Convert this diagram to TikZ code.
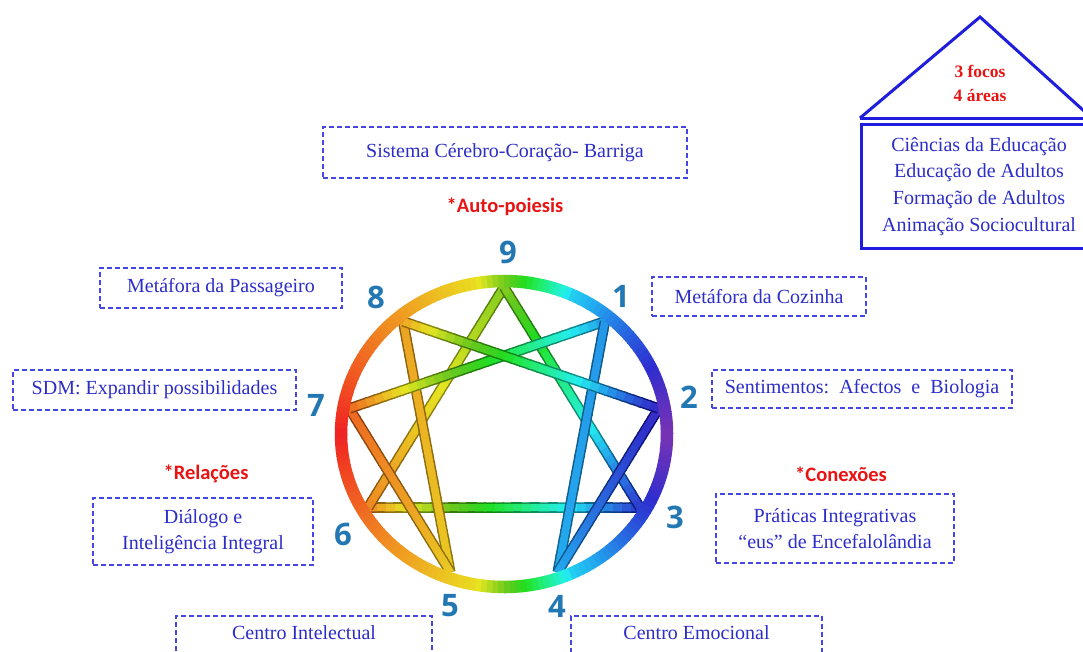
\documentclass[tikz,border=0pt]{standalone}
\usepackage{fontspec}
\setmainfont{Liberation Serif}
\newfontfamily\labfont{Carlito}
\newfontfamily\numfont{Open Sans}
\usetikzlibrary{calc}
\definecolor{boxblue}{RGB}{70,70,225}
\definecolor{txtblue}{RGB}{45,45,200}
\definecolor{redlab}{RGB}{232,20,20}
\definecolor{numblue}{RGB}{35,120,180}
\definecolor{houseblue}{RGB}{30,30,220}
\tikzset{
  dbox/.style={draw=boxblue, dash pattern=on 5pt off 3pt, line width=1.8pt,
    text=txtblue, font=\fontsize{20}{26.5}\selectfont, align=center, inner sep=0pt},
  redlabel/.style={text=redlab, font=\labfont\bfseries\fontsize{20.5}{24}\selectfont, inner sep=0pt},
  numlabel/.style={text=numblue, font=\numfont\bfseries\fontsize{31}{36}\selectfont, inner sep=0pt},
  housetext/.style={text=txtblue, font=\fontsize{20}{26.7}\selectfont, align=center},
}
\newcommand\enribbon[4]{%
  \foreach \i in {0,...,29}{%
    \pgfmathsetmacro\ta{\i/30}%
    \pgfmathsetmacro\tb{min((\i+1.2)/30,1)}%
    \pgfmathsetmacro\hh{#3+(#4-#3)*(\i+0.5)/30}%
    \pgfmathsetmacro\bb{0.6*(0.93-0.14*exp(-((\hh-95)/30)^2)-max(\hh-200,0)*0.0035)}%
    \definecolor{rd}{Hsb}{\hh,0.9,\bb}%
    \draw[rd, line width=10.5] ($(#1)!\ta!(#2)$) -- ($(#1)!\tb!(#2)$);
  }%
  \foreach \i in {0,...,29}{%
    \pgfmathsetmacro\ta{\i/30}%
    \pgfmathsetmacro\tb{min((\i+1.2)/30,1)}%
    \pgfmathsetmacro\hh{#3+(#4-#3)*(\i+0.5)/30}%
    \pgfmathsetmacro\bb{0.93-0.14*exp(-((\hh-95)/30)^2)-max(\hh-200,0)*0.0035}%
    \pgfmathsetmacro\ss{0.85-max(\hh-200,0)*0.002}%
    \definecolor{rb}{Hsb}{\hh,\ss,\bb}%
    \draw[rb, line width=7.5] ($(#1)!\ta!(#2)$) -- ($(#1)!\tb!(#2)$);
  }%
}
\begin{document}
\begin{tikzpicture}[x=1pt,y=-1pt]
\useasboundingbox (0,0) rectangle (1083,651);
\fill[white] (0,0) rectangle (1083,651);
\clip (0,0) rectangle (1083,651);

% star vertices (v0 = point 9)
\foreach \k in {0,...,8}{
  \coordinate (v\k) at ({504+157*cos(90-40*\k)},{434-147*sin(90-40*\k)});
}
% ribbons
\enribbon{v3}{v6}{235}{30}
\enribbon{v0}{v6}{85}{30}
\enribbon{v0}{v3}{85}{235}
\enribbon{v8}{v5}{38}{50}
\enribbon{v5}{v7}{50}{20}
\enribbon{v7}{v1}{20}{205}
\enribbon{v1}{v4}{205}{200}
\enribbon{v4}{v2}{200}{245}
\enribbon{v2}{v8}{245}{38}

% ring
\foreach \a in {-180,-178,...,178}{
  \pgfmathsetmacro\dd{180-abs(\a+1)}
  \pgfmathsetmacro\hq{min(\dd,80)*0.7 + max(min(\dd,90)-80,0)*3.4 + max(min(\dd,115)-90,0)*4 + max(\dd-115,0)*82/65}
  \pgfmathsetmacro\bq{0.94-0.14*exp(-((\hq-95)/30)^2)-max(\hq-200,0)*0.0033}
  \pgfmathsetmacro\sq{0.86-max(\hq-200,0)*0.002}
  \definecolor{rc}{Hsb}{\hq,\sq,\bq}
  \draw[rc, line width=12.5] ({504+163*cos(\a)},{434-153*sin(\a)}) -- ({504+163*cos(\a+1)},{434-153*sin(\a+1)}) -- ({504+163*cos(\a+2.3)},{434-153*sin(\a+2.3)});
}

% numbers
\node[numlabel] (n9) at (508,252) {9};
\node[numlabel] (n1) at (621,296) {1};
\node[numlabel] (n2) at (689,397) {2};
\node[numlabel] (n3) at (675,517) {3};
\node[numlabel] (n4) at (557,606) {4};
\node[numlabel] (n5) at (450,606) {5};
\node[numlabel] (n6) at (343,534) {6};
\node[numlabel] (n7) at (316,405) {7};
\node[numlabel] (n8) at (376,297) {8};

% dashed boxes
\node[dbox, minimum width=364, minimum height=51] (sys) at (505,152.5) {Sistema Cérebro-Coração- Barriga};
\node[redlabel] (auto) at (505,207) {*Auto-poiesis};
\node[dbox, minimum width=242, minimum height=40] (pass) at (221,288) {Metáfora da Passageiro};
\node[dbox, minimum width=214, minimum height=39] (coz) at (759,296.5) {Metáfora da Cozinha};
\node[dbox, minimum width=283, minimum height=40] (sdm) at (154.5,390) {SDM: Expandir possibilidades};
\node[dbox, minimum width=300, minimum height=38] (sent) at (862,389) {Sentimentos:\ \ Afectos\ \ e\ \ Biologia};
\node[redlabel] (rel) at (206,474) {*Relações};
\node[dbox, minimum width=220, minimum height=67] (dial) at (203,531.5) {Diálogo e\\Inteligência Integral};
\node[redlabel] (con) at (841,474) {*Conexões};
\node[dbox, minimum width=238, minimum height=69] (prat) at (835,528.5) {Práticas Integrativas\\“eus” de Encefalolândia};
\node[dbox, anchor=north, minimum width=256, inner ysep=10pt, text height=14pt, text depth=32pt] (cint) at (304,615) {Centro Intelectual};
\node[dbox, anchor=north, minimum width=251, inner ysep=10pt, text height=14pt, text depth=32pt] (cemo) at (696.5,615) {Centro Emocional};

% house
\coordinate (roofL) at (860,118);
\coordinate (roofT) at (980,17);
\coordinate (roofR) at (1094,120);
\coordinate (baseR) at (1095,118);
\draw[houseblue, line width=3, line join=miter] (roofL) -- (roofT) -- (roofR);
\draw[houseblue, line width=3] (roofL) -- (baseR);
\node[text=redlab, font=\bfseries\fontsize{17.5}{24}\selectfont, align=center] (focos) at (980,83) {3 focos\\4 áreas};
\node[draw=houseblue, line width=3, anchor=north west, minimum width=235, minimum height=124, housetext] (areas) at (860,123)
  {Ciências da Educação\\Educação de Adultos\\Formação de Adultos\\Animação Sociocultural};
\end{tikzpicture}
\end{document}
